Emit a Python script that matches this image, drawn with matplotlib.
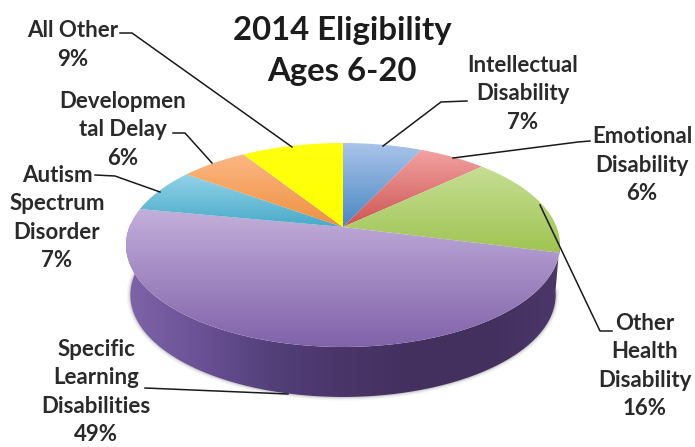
import numpy as np
import matplotlib
matplotlib.use("Agg")
from matplotlib import pyplot as plt
from matplotlib.colors import LinearSegmentedColormap
from matplotlib.patches import Polygon

plt.rcParams["font.family"] = ["Lato", "DejaVu Sans"]

labels = ["Intellectual\nDisability\n7%", "Emotional\nDisability\n6%",
          "Other\nHealth\nDisability\n16%",
          "Specific\nLearning\nDisabilities\n49%",
          "Autism\nSpectrum\nDisorder\n7%",
          "Developmen\ntal Delay\n6%", "All Other\n9%"]
shares = [7, 6, 16, 49, 7, 6, 9]
top_colors = ["#a9c4ea", "#f3a3a2", "#c6de94", "#c3afdb", "#93d3e8", "#fcb783", "#ffff10"]
low_colors = ["#4a87c2", "#cc5553", "#a0c453", "#8062a9", "#48aac8", "#ee9040", "#ffff00"]
label_xy = [(523, 94), (642, 165), (645, 366), (96, 392), (57, 218), (123, 130), (73, 45)]

# leader lines, label end first
leaders = [[(467, 101), (441, 102), (383, 146)],
           [(590, 141), (578, 142), (453, 158)],
           [(612, 331), (600, 331), (540, 205)],
           [(145, 388), (288, 394)],
           [(95, 175), (115, 176), (160, 192)],
           [(173, 133), (185, 133), (212, 163)],
           [(120, 33), (132, 33), (292, 147)]]

CX, CY = 343, 227
RX, RY = 213.6, 98.8
TILT = 0.1765
DEPTH = 50


def project(theta):
    # theta is clockwise from twelve o'clock, tilted disc in perspective
    u, v = np.sin(theta), np.cos(theta)
    w = 1 + TILT * v
    return CX + RX * u / w, CY - RY * v / w


def gradient_fill(ax, poly, stops, horizontal=False):
    cmap = LinearSegmentedColormap.from_list("g", stops)
    ramp = np.linspace(0, 1, 256)
    ramp = ramp[np.newaxis, :] if horizontal else ramp[:, np.newaxis]
    xs, ys = poly[:, 0], poly[:, 1]
    im = ax.imshow(ramp, cmap=cmap, aspect="auto", interpolation="bilinear",
                   extent=(xs.min(), xs.max(), ys.max(), ys.min()), zorder=2)
    patch = Polygon(poly, closed=True, transform=ax.transData, fc="none", ec="none")
    ax.add_patch(patch)
    im.set_clip_path(patch)


fig = plt.figure(figsize=(6.95, 4.47), dpi=100)
ax = fig.add_axes([0, 0, 1, 1])

# side wall below the front of the disc
t = np.radians(np.linspace(98, 272, 200))
x_top, y_top = project(t)
x_low = CX + (x_top - CX) * 0.98
y_low = y_top + DEPTH
wall = np.vstack([np.column_stack([x_top, y_top]),
                  np.column_stack([x_low, y_low])[::-1]])
for lw, a in [(5, 0.05), (3, 0.08), (1.5, 0.12)]:
    ax.plot(x_low, y_low, color="#333333", lw=lw, alpha=a, zorder=1)
gradient_fill(ax, wall, ["#7f64a8", "#6b5196", "#53407a", "#4a3568",
                         "#43305f", "#43305f", "#4b3769"], horizontal=True)

# slices of the top surface
start = 0.0
for share, c_top, c_low in zip(shares, top_colors, low_colors):
    end = start + share / sum(shares) * 2 * np.pi
    th = np.linspace(start, end, 100)
    xs, ys = project(th)
    poly = np.vstack([[CX, CY], np.column_stack([xs, ys])])
    gradient_fill(ax, poly, [c_top, c_low])
    start = end

for text, (x, y) in zip(labels, label_xy):
    ax.text(x, y, text, ha="center", va="center", fontsize=16, fontweight="bold",
            color="#2a2a2a", linespacing=1.43, zorder=4)
ax.text(342, 51, "2014 Eligibility\nAges 6-20", ha="center", va="center", fontsize=23.7,
        fontweight="bold", color="#1c1c1c", linespacing=1.5, zorder=4)

for pts in leaders:
    px, py = zip(*pts)
    ax.plot(px, py, color="#1a1a1a", lw=1.1, zorder=3)

ax.set_xlim(0, 695)
ax.set_ylim(447, 0)
ax.axis("off")
fig.savefig("out.png", dpi=100, facecolor="white")
